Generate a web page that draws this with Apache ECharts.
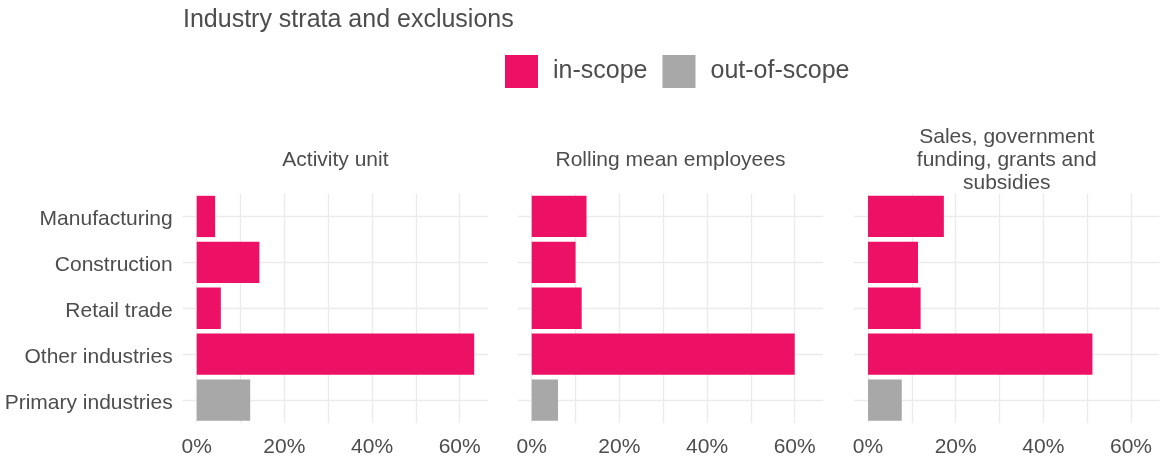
<!DOCTYPE html>
<html lang="en">
<head>
    <meta charset="utf-8">
    <title>Industry strata and exclusions</title>
    <script src="https://cdn.jsdelivr.net/npm/echarts@6/dist/echarts.min.js"></script>
    <style>
        html, body { margin: 0; padding: 0; background: #fff; }
        #chart { width: 1161px; height: 462px; }
    </style>
</head>
<body>
<div id="chart"></div>

<script>
    // data
    var categories = ['Manufacturing', 'Construction', 'Retail trade', 'Other industries', 'Primary industries'];
    var scope = ['in-scope', 'in-scope', 'in-scope', 'in-scope', 'out-of-scope'];
    var facets = ['Activity unit', 'Rolling mean employees', 'Sales, government\nfunding, grants and\nsubsidies'];
    var activityUnit = [4.2, 14.3, 5.5, 63.3, 12.2];
    var rollingEmployees = [12.5, 10.0, 11.4, 60.0, 6.0];
    var salesFunding = [17.3, 11.4, 12.0, 51.2, 7.7];
    var xTicks = [0, 20, 40, 60];
    var xGrid = [0, 10, 20, 30, 40, 50, 60];

    var panelValues = [activityUnit, rollingEmployees, salesFunding];
    var colors = { 'in-scope': '#ED1165', 'out-of-scope': '#A8A8A8' };

    var font = "'Liberation Sans', Arial, sans-serif";
    var textCol = '#4D4D4D';
    var gridCol = '#EBEBEB';

    var lefts = [182.7, 517.7, 854];
    var panelW = 305.5;
    var panelTop = 193.5, panelH = 229.5;

    var grids = [], xAxes = [], yAxes = [], series = [], titles = [];

    titles.push({
        text: 'Industry strata and exclusions',
        left: 178, top: 3,
        textStyle: { fontFamily: font, fontSize: 25, fontWeight: 'normal', color: textCol }
    });

    panelValues.forEach(function (vals, i) {
        grids.push({ left: lefts[i], top: panelTop, width: panelW, height: panelH });

        // facet strip label, centred over its panel
        var lines = facets[i].split('\n').length;
        titles.push({
            text: facets[i],
            left: lefts[i] + panelW / 2 - 5,
            top: 155 - lines * 11.5,
            textAlign: 'center',
            textStyle: { fontFamily: font, fontSize: 21, fontWeight: 'normal', color: textCol, lineHeight: 23, align: 'center' }
        });

        xAxes.push({
            gridIndex: i, type: 'value', min: -3.2, max: 66.5,
            axisLine: { show: false },
            axisTick: { show: false, customValues: xGrid },
            axisLabel: {
                customValues: xTicks, formatter: '{value}%', margin: 14,
                fontFamily: font, fontSize: 21, color: textCol
            },
            splitLine: { show: true, lineStyle: { color: gridCol, width: 1.3 } }
        });

        yAxes.push({
            gridIndex: i, type: 'category', data: categories, inverse: true,
            axisLine: { show: false },
            axisTick: { show: false },
            axisLabel: {
                show: i === 0, margin: 10,
                formatter: '{a|{value}}',
                rich: { a: { padding: [6, 0, 0, 0], fontFamily: font, fontSize: 21, color: textCol } },
                fontFamily: font, fontSize: 21, color: textCol
            },
            splitLine: { show: true, alignWithLabel: true, lineStyle: { color: gridCol, width: 1.3 } }
        });

        ['in-scope', 'out-of-scope'].forEach(function (s) {
            series.push({
                name: s, type: 'bar',
                xAxisIndex: i, yAxisIndex: i,
                stack: 'p' + i,
                barCategoryGap: '10%',
                itemStyle: { color: colors[s] },
                data: vals.map(function (v, k) { return scope[k] === s ? v : null; })
            });
        });
    });

    var chart = echarts.init(document.getElementById('chart'));
    chart.setOption({
        animation: false,
        title: titles,
        legend: {
            data: ['in-scope', 'out-of-scope'],
            left: 500, top: 50,
            itemWidth: 33, itemHeight: 33, itemGap: 15,
            icon: 'rect',
            textStyle: { fontFamily: font, fontSize: 25, color: textCol, padding: [0, 0, 0, 10] }
        },
        grid: grids,
        xAxis: xAxes,
        yAxis: yAxes,
        series: series
    });
</script>
</body>
</html>
